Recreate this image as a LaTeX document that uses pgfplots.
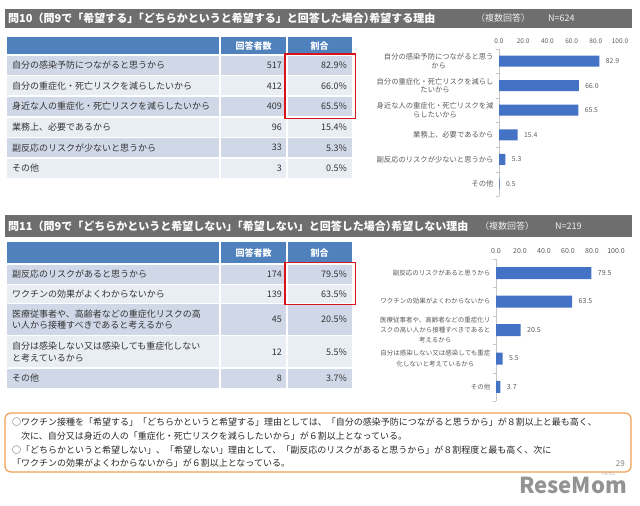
\documentclass[border=0pt]{standalone}
\usepackage{pgfplots}
\pgfplotsset{compat=1.18}
\usepackage{fontspec}
\setmainfont{Noto Sans CJK JP}

\definecolor{barblue}{HTML}{4472C4}
\definecolor{hdrblue}{HTML}{4F81BD}
\definecolor{bandA}{HTML}{D0D8E8}
\definecolor{bandB}{HTML}{E9EDF4}
\definecolor{titlegray}{HTML}{6E6E6E}
\definecolor{boxred}{HTML}{D7141C}
\definecolor{boxorange}{HTML}{F0A050}
\definecolor{labgray}{HTML}{595959}
\definecolor{tabtext}{HTML}{333333}

\pgfkeys{/pgf/number format/.cd, fixed, fixed zerofill, precision=1, assume math mode=true}

\newcommand{\tabfont}{\fontsize{9}{11.7}\selectfont}
\newcommand{\nk}{\kern-0.5em}
% one table row: y top, y bottom, fill, label, count, share
\newcommand{\trow}[6]{%
  \fill[#3] (7,#1) rectangle (352,#2);
  \node[anchor=west, align=left, font=\tabfont, text=tabtext, inner sep=0pt] at (12,{(#1+#2)/2}) {#4};
  \node[anchor=east, font=\tabfont, text=tabtext, inner sep=0pt] at (282,{(#1+#2)/2}) {#5};
  \node[anchor=east, font=\tabfont, text=tabtext, inner sep=0pt] at (347,{(#1+#2)/2}) {#6};}

\pgfplotsset{
  hbarchart/.style={
    scale only axis, xbar, xmin=0, xmax=100,
    xtick={0,20,...,100},
    axis x line*=top, axis y line*=left,
    x axis line style={draw=none},
    y axis line style={draw=gray!45},
    xtick style={draw=none},
    major tick length=0pt, minor tick length=3pt,
    ytick style={draw=gray!45}, tick align=outside,
    nodes near coords, point meta=x,
    x tick label style={text=labgray, yshift=2pt},
    y tick label style={text=labgray, align=center, xshift=-2pt},
    every node near coord/.append style={text=labgray, xshift=3pt},
    clip=false,
  }
}

\begin{document}
\begin{tikzpicture}[x=1pt,y=-1pt]
\path[use as bounding box] (0,0) rectangle (640,506);

% ---------- 問10 ----------
\fill[titlegray] (5,9) rectangle (632,27.5);
\node[anchor=west, text=white, font=\bfseries\fontsize{11}{13}\selectfont, inner sep=0pt] at (8,18.3)
  {問10（問9で「希望する」\nk{}「どちらかというと希望する」と回答した場合）\nk{}希望する理由};
\node[anchor=west, text=white!88!gray, font=\fontsize{9}{11}\selectfont, inner sep=0pt] at (476,18.3) {（複数回答）};
\node[anchor=west, text=white!88!gray, font=\fontsize{9}{11}\selectfont, inner sep=0pt] at (548,18.3) {N=624};

\fill[hdrblue] (7,37) rectangle (352,55);
\node[text=white, font=\bfseries\tabfont] at (253.5,46) {回答者数};
\node[text=white, font=\bfseries\tabfont] at (319.5,46) {割合};
\trow{55}{75.5}{bandA}{自分の感染予防につながると思うから}{517}{82.9\%}
\trow{75.5}{96}{bandB}{自分の重症化・死亡リスクを減らしたいから}{412}{66.0\%}
\trow{96}{117}{bandA}{身近な人の重症化・死亡リスクを減らしたいから}{409}{65.5\%}
\trow{117}{137.5}{bandB}{業務上、必要であるから}{96}{15.4\%}
\trow{137.5}{158}{bandA}{副反応のリスクが少ないと思うから}{33}{5.3\%}
\trow{158}{178}{bandB}{その他}{3}{0.5\%}
\draw[white, line width=1.2pt] (220,37) -- (220,178) (287,37) -- (287,178);
\foreach \yy in {55,75.5,96,117,137.5,158}
  \draw[white, line width=1.2pt] (7,\yy) -- (352,\yy);
\draw[boxred, line width=1.8pt] (285,54) rectangle (355.5,118.5);

\begin{axis}[hbarchart, at={(499pt,-48.7pt)}, anchor=north west,
  width=121pt, height=147.6pt, bar width=11pt,
  ymin=-0.5, ymax=5.5, ytick={0,...,5},
  minor ytick={-0.5,0.5,...,5.5},
  yticklabels={その他, 副反応のリスクが少ないと思うから, 業務上、必要であるから,
    {身近な人の重症化・死亡リスクを減\\らしたいから},
    {自分の重症化・死亡リスクを減らし\\たいから},
    {自分の感染予防につながると思う\\から}},
  y tick label style={font=\fontsize{7.3}{8.7}\selectfont},
  x tick label style={font=\fontsize{6.5}{7}\selectfont},
  every node near coord/.append style={font=\fontsize{6.8}{7}\selectfont}]
\addplot[fill=barblue, draw=none] coordinates {
(82.9,5) (66.0,4) (65.5,3) (15.4,2) (5.3,1) (0.5,0)};
\end{axis}

% ---------- 問11 ----------
\fill[titlegray] (5,215) rectangle (632,237);
\node[anchor=west, text=white, font=\bfseries\fontsize{11}{13}\selectfont, inner sep=0pt] at (8,226)
  {問11（問9で「どちらかというと希望しない」\nk{}「希望しない」と回答した場合）\nk{}希望しない理由};
\node[anchor=west, text=white!88!gray, font=\fontsize{9}{11}\selectfont, inner sep=0pt] at (480,226) {（複数回答）};
\node[anchor=west, text=white!88!gray, font=\fontsize{9}{11}\selectfont, inner sep=0pt] at (555,226) {N=219};

\fill[hdrblue] (7,242) rectangle (352,264);
\node[text=white, font=\bfseries\tabfont] at (253.5,253) {回答者数};
\node[text=white, font=\bfseries\tabfont] at (319.5,253) {割合};
\trow{264}{284.5}{bandA}{副反応のリスクがあると思うから}{174}{79.5\%}
\trow{284.5}{303.5}{bandB}{ワクチンの効果がよくわからないから}{139}{63.5\%}
\trow{303.5}{335.5}{bandA}{医療従事者や、高齢者などの重症化リスクの高\\い人から接種すべきであると考えるから}{45}{20.5\%}
\trow{335.5}{368}{bandB}{自分は感染しない又は感染しても重症化しない\\と考えているから}{12}{5.5\%}
\trow{368}{388}{bandA}{その他}{8}{3.7\%}
\draw[white, line width=1.2pt] (220,242) -- (220,388) (287,242) -- (287,388);
\foreach \yy in {264,284.5,303.5,335.5,368}
  \draw[white, line width=1.2pt] (7,\yy) -- (352,\yy);
\draw[boxred, line width=1.8pt] (285,262.5) rectangle (355.5,304.5);

\begin{axis}[hbarchart, at={(496pt,-258.75pt)}, anchor=north west,
  width=120pt, height=142.5pt, bar width=12pt,
  ymin=-0.5, ymax=4.5, ytick={0,...,4},
  minor ytick={-0.5,0.5,...,4.5},
  yticklabels={その他,
    {自分は感染しない又は感染しても重症\\化しないと考えているから},
    {医療従事者や、高齢者などの重症化リ\\スクの高い人から接種すべきであると\\考えるから},
    ワクチンの効果がよくわからないから, 副反応のリスクがあると思うから},
  y tick label style={font=\fontsize{6.5}{10.3}\selectfont},
  x tick label style={font=\fontsize{7}{8}\selectfont},
  every node near coord/.append style={font=\fontsize{7}{8}\selectfont}]
\addplot[fill=barblue, draw=none] coordinates {
(79.5,4) (63.5,3) (20.5,2) (5.5,1) (3.7,0)};
\end{axis}

% ---------- summary box ----------
\draw[boxorange, line width=1.2pt, rounded corners=6pt] (5,413) rectangle (631,472);
\begin{scope}[every node/.style={anchor=base west, inner sep=0pt, text=black!85, font=\fontsize{9}{11}\selectfont}]
\node at (12,425.5) {○ワクチン接種を「希望する」「どちらかというと希望する」理由としては、「自分の感染予防につながると思うから」が８割以上と最も高く、};
\node at (12,439) {　次に、自分又は身近の人の「重症化・死亡リスクを減らしたいから」が６割以上となっている。};
\node at (12,453) {○「どちらかというと希望しない」、「希望しない」理由として、「副反応のリスクがあると思うから」が８割程度と最も高く、次に};
\node at (12,466.5) {「ワクチンの効果がよくわからないから」が６割以上となっている。};
\end{scope}
\node[anchor=base east, inner sep=0pt, text=gray, font=\fontsize{8}{9}\selectfont] at (625,466) {29};

% watermark
\node[anchor=south east, inner sep=0pt, text=gray!85, font=\bfseries\fontsize{22}{22}\selectfont] at (627,494) {ReseMom};
\node[inner sep=0pt, text=gray!85, font=\fontsize{3.5}{4}\selectfont] at (608,474.5) {リセマム};
\end{tikzpicture}
\end{document}
